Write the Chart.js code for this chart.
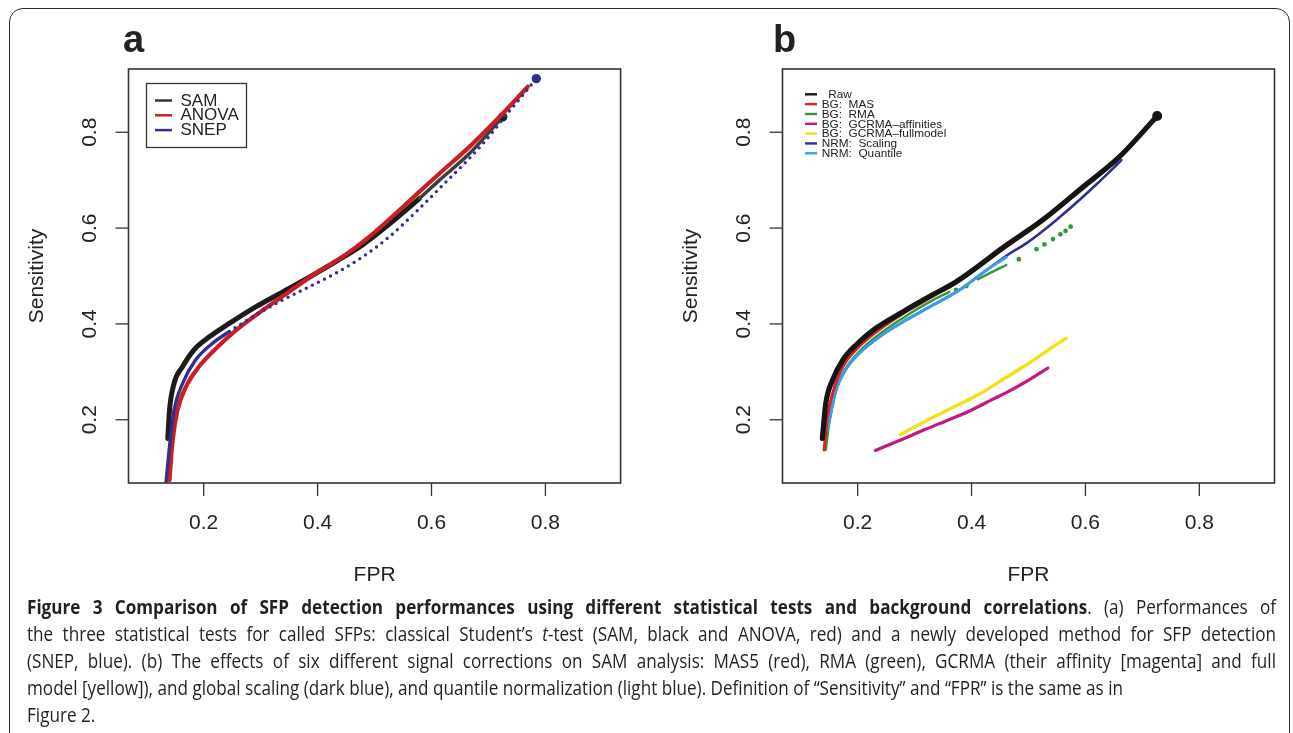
<!DOCTYPE html>
<html>
<head>
<meta charset="utf-8">
<script src="https://cdn.jsdelivr.net/npm/chart.js@4.4.1/dist/chart.umd.min.js"></script>
<style>
  body { margin: 0; width: 1293px; height: 733px; overflow: hidden; background: #fff; position: relative; }
  #frame { position: absolute; left: 9px; top: 8px; width: 1281px; height: 745px; border: 1.5px solid #2a2a2a; border-radius: 14px; box-sizing: border-box; }
  canvas { position: absolute; top: 0; }
  #ca { left: 0; }
  #cb { left: 647px; }
  #caption { position: absolute; left: 27px; top: 593px; font-family: "Open Sans", sans-serif; font-size: 20px; color: #231f20; transform-origin: 0 0; white-space: nowrap; }
  .ln { height: 27px; line-height: 27px; }
  .j { text-align: justify; text-align-last: justify; }
</style>
</head>
<body>
<div id="frame"></div>
<canvas id="ca" width="647" height="600"></canvas>
<canvas id="cb" width="646" height="600"></canvas>
<div id="caption">
  <div class="ln j"><b>Figure 3 Comparison of SFP detection performances using different statistical tests and background correlations</b>. (a) Performances of</div>
  <div class="ln j">the three statistical tests for called SFPs: classical Student’s <i>t</i>-test (SAM, black and ANOVA, red) and a newly developed method for SFP detection</div>
  <div class="ln j">(SNEP, blue). (b) The effects of six different signal corrections on SAM analysis: MAS5 (red), RMA (green), GCRMA (their affinity [magenta] and full</div>
  <div class="ln"><span id="l4">model [yellow]), and global scaling (dark blue), and quantile normalization (light blue). Definition of “Sensitivity” and “FPR” is the same as in</span></div>
  <div class="ln">Figure 2.</div>
</div>
<script>
// shared axes
const axisMin = 0.068;
const axisMax = 0.932;
const tickVals = [0.2, 0.4, 0.6, 0.8];
const tickLabels = ["0.2", "0.4", "0.6", "0.8"];

// panel a: statistical tests
const samFpr = [0.137, 0.140, 0.148, 0.163, 0.183, 0.210, 0.245, 0.292, 0.339, 0.386, 0.432, 0.479, 0.509, 0.579, 0.614, 0.667, 0.725];
const samSens = [0.161, 0.220, 0.276, 0.311, 0.346, 0.373, 0.401, 0.436, 0.467, 0.498, 0.530, 0.565, 0.592, 0.662, 0.700, 0.756, 0.832];
const anovaFpr = [0.140, 0.145, 0.154, 0.169, 0.192, 0.222, 0.257, 0.304, 0.350, 0.397, 0.444, 0.491, 0.579, 0.614, 0.667, 0.725, 0.769];
const anovaSens = [0.074, 0.151, 0.220, 0.269, 0.311, 0.349, 0.387, 0.429, 0.467, 0.506, 0.540, 0.582, 0.676, 0.714, 0.770, 0.839, 0.895];
const snepFpr = [0.134, 0.140, 0.148, 0.163, 0.186, 0.216, 0.245, 0.292, 0.339, 0.386, 0.432, 0.479, 0.526, 0.585, 0.620, 0.658, 0.696, 0.731, 0.758, 0.784];
const snepSens = [0.071, 0.144, 0.220, 0.276, 0.325, 0.360, 0.384, 0.419, 0.450, 0.478, 0.506, 0.540, 0.582, 0.648, 0.690, 0.735, 0.784, 0.836, 0.874, 0.912];

// panel b: signal corrections (null = gap in the curve)
const rawFpr = [0.138, 0.144, 0.156, 0.174, 0.197, 0.232, 0.279, 0.326, 0.373, 0.426, 0.449, 0.525, 0.596, 0.660, 0.726];
const rawSens = [0.161, 0.234, 0.283, 0.325, 0.356, 0.391, 0.425, 0.457, 0.488, 0.533, 0.554, 0.617, 0.686, 0.749, 0.834];
const masFpr = [0.141, 0.147, 0.156, 0.174, 0.197, 0.226, 0.279, 0.326, 0.373, 0.426, 0.525, 0.596, 0.660, 0.726];
const masSens = [0.137, 0.206, 0.255, 0.311, 0.346, 0.377, 0.421, 0.454, 0.486, 0.531, 0.616, 0.686, 0.750, 0.834];
const rmaFpr = [0.144, 0.150, 0.159, 0.174, 0.197, 0.232, 0.279, 0.326, 0.361, null, 0.373, null, 0.391, null, 0.411, 0.432, 0.461, null, 0.483, null, 0.514, null, 0.528, null, 0.543, null, 0.556, null, 0.565, null, 0.574];
const rmaSens = [0.137, 0.193, 0.248, 0.297, 0.335, 0.373, 0.412, 0.446, 0.467, null, 0.471, null, 0.479, null, 0.493, 0.506, 0.523, null, 0.535, null, 0.556, null, 0.566, null, 0.577, null, 0.587, null, 0.594, null, 0.603];
const affFpr = [0.231, 0.272, 0.319, 0.354, 0.389, 0.436, 0.471, 0.506, 0.534];
const affSens = [0.136, 0.156, 0.180, 0.197, 0.214, 0.242, 0.263, 0.287, 0.308];
const fullFpr = [0.275, 0.319, 0.366, 0.413, 0.459, 0.506, 0.535, 0.566];
const fullSens = [0.169, 0.197, 0.225, 0.253, 0.287, 0.322, 0.346, 0.370];
const scalFpr = [0.147, 0.162, 0.180, 0.203, 0.238, 0.285, 0.332, 0.379, 0.426, 0.467, 0.496, 0.549, 0.602, 0.649, 0.663];
const scalSens = [0.180, 0.262, 0.307, 0.339, 0.373, 0.408, 0.439, 0.471, 0.512, 0.547, 0.568, 0.617, 0.672, 0.725, 0.742];
const quantFpr = [0.147, 0.162, 0.180, 0.203, 0.238, 0.285, 0.332, 0.379, 0.426, 0.461];
const quantSens = [0.180, 0.262, 0.307, 0.339, 0.373, 0.408, 0.439, 0.471, 0.512, 0.539];

const font = '"Liberation Sans", Arial, sans-serif';

function pts(xs, ys) {
  return xs.map((x, i) => ({ x: x, y: ys[i] }));
}

// lone points between gaps are drawn as dots
function loneDot(ctx) {
  const d = ctx.dataset.data;
  const i = ctx.dataIndex;
  const prev = d[i - 1], next = d[i + 1];
  const alone = (!prev || prev.y === null) && (!next || next.y === null);
  return alone ? 1.2 : 0;
}

function endDot(size) {
  return ctx => ctx.dataIndex === ctx.dataset.data.length - 1 ? size : 0;
}

// R-style box, ticks, titles and legend
const rFrame = {
  id: "rFrame",
  afterDraw(chart, args, opts) {
    const { ctx, chartArea: a } = chart;
    const x = chart.scales.x, y = chart.scales.y;
    ctx.save();
    ctx.strokeStyle = "#333";
    ctx.fillStyle = "#222";
    ctx.lineWidth = 1.6;
    ctx.strokeRect(a.left, a.top, a.right - a.left, a.bottom - a.top);
    ctx.lineWidth = 1.3;
    ctx.font = "21px " + font;
    ctx.textAlign = "center";
    ctx.textBaseline = "middle";
    tickVals.forEach((v, i) => {
      const px = x.getPixelForValue(v);
      ctx.beginPath();
      ctx.moveTo(px, a.bottom);
      ctx.lineTo(px, a.bottom + 13);
      ctx.stroke();
      ctx.fillText(tickLabels[i], px, a.bottom + 40);
      const py = y.getPixelForValue(v);
      ctx.beginPath();
      ctx.moveTo(a.left, py);
      ctx.lineTo(a.left - 13, py);
      ctx.stroke();
      ctx.save();
      ctx.translate(a.left - 38, py);
      ctx.rotate(-Math.PI / 2);
      ctx.fillText(tickLabels[i], 0, 0);
      ctx.restore();
    });
    ctx.fillText("FPR", (a.left + a.right) / 2, 575);
    ctx.save();
    ctx.translate(a.left - 91, (a.top + a.bottom) / 2);
    ctx.rotate(-Math.PI / 2);
    ctx.fillText("Sensitivity", 0, 0);
    ctx.restore();

    // panel letter
    ctx.font = "bold 38px " + font;
    ctx.textAlign = "left";
    ctx.textBaseline = "alphabetic";
    ctx.fillText(opts.letter, opts.letterX, 52);

    // legend
    const lg = opts.legend;
    if (lg.box) {
      ctx.fillStyle = "#fff";
      ctx.fillRect(lg.box[0], lg.box[1], lg.box[2], lg.box[3]);
      ctx.lineWidth = 1.3;
      ctx.strokeStyle = "#333";
      ctx.strokeRect(lg.box[0], lg.box[1], lg.box[2], lg.box[3]);
    }
    ctx.font = lg.size + "px " + font;
    ctx.textBaseline = "middle";
    chart.data.datasets.forEach((ds, i) => {
      const ry = lg.y0 + i * lg.dy;
      ctx.strokeStyle = ds.legendColor || ds.borderColor;
      ctx.lineWidth = lg.lw;
      ctx.beginPath();
      ctx.moveTo(lg.x0, ry);
      ctx.lineTo(lg.x1, ry);
      ctx.stroke();
      ctx.fillStyle = "#222";
      ctx.fillText(ds.label, lg.tx, ry + 0.5);
    });
    ctx.restore();
  }
};

function makePanel(id, datasets, pad, frameOpts) {
  return new Chart(document.getElementById(id), {
    type: "scatter",
    data: { datasets: datasets },
    options: {
      responsive: false,
      devicePixelRatio: 1,
      animation: false,
      events: [],
      layout: { padding: pad },
      elements: {
        line: { borderCapStyle: "round", borderJoinStyle: "round", cubicInterpolationMode: "monotone" },
        point: { radius: 0, borderWidth: 0 }
      },
      scales: {
        x: { type: "linear", min: axisMin, max: axisMax, display: false },
        y: { type: "linear", min: axisMin, max: axisMax, display: false }
      },
      plugins: {
        legend: { display: false },
        tooltip: { enabled: false },
        rFrame: frameOpts
      }
    },
    plugins: [rFrame]
  });
}

makePanel("ca", [
  {
    label: "SAM", data: pts(samFpr, samSens), showLine: true, order: 3,
    borderColor: "#1c1c1c", borderWidth: 5, legendColor: "#333",
    segment: {
      borderWidth: c => c.p0.parsed.y > 0.6 ? 3.5 : undefined,
      borderColor: c => c.p0.parsed.y > 0.6 ? "#3d3d3d" : undefined
    },
    pointRadius: endDot(2.2), pointBackgroundColor: "#111"
  },
  {
    label: "ANOVA", data: pts(anovaFpr, anovaSens), showLine: true, order: 2,
    borderColor: "#c91f24", borderWidth: 4.2
  },
  {
    label: "SNEP", data: pts(snepFpr, snepSens), showLine: true, order: 1,
    borderColor: "#303092", borderWidth: 3.4,
    segment: { borderDash: c => c.p0.parsed.y > 0.37 ? [0, 6.8] : undefined },
    pointRadius: endDot(3), pointBackgroundColor: "#303092"
  }
], { left: 128.5, top: 69, right: 26.4, bottom: 117 }, {
  letter: "a", letterX: 123,
  legend: { box: [146.5, 83.5, 100, 64], x0: 155, x1: 172, tx: 180.5, y0: 100.5, dy: 14.8, size: 17, lw: 2.5 }
});

makePanel("cb", [
  { label: "  Raw", data: pts(rawFpr, rawSens), showLine: true, order: 1, borderColor: "#151515", borderWidth: 5.2, pointRadius: endDot(2.4), pointBackgroundColor: "#111" },
  { label: "BG:  MAS", data: pts(masFpr, masSens), showLine: true, order: 2, borderColor: "#d8232a", borderWidth: 3 },
  { label: "BG:  RMA", data: pts(rmaFpr, rmaSens), showLine: true, order: 4, spanGaps: false, borderColor: "#2e9a36", borderWidth: 2.4, pointRadius: loneDot, pointBackgroundColor: "#2e9a36" },
  { label: "BG:  GCRMA\u2013affinities", data: pts(affFpr, affSens), showLine: true, order: 6, borderColor: "#c2187f", borderWidth: 3.2 },
  { label: "BG:  GCRMA\u2013fullmodel", data: pts(fullFpr, fullSens), showLine: true, order: 7, borderColor: "#efe21c", borderWidth: 3.4 },
  { label: "NRM:  Scaling", data: pts(scalFpr, scalSens), showLine: true, order: 5, borderColor: "#2f2f93", borderWidth: 2.6 },
  { label: "NRM:  Quantile", data: pts(quantFpr, quantSens), showLine: true, order: 3, borderColor: "#3b9fe4", borderWidth: 3 }
], { left: 135.5, top: 69, right: 18.5, bottom: 117 }, {
  letter: "b", letterX: 126,
  legend: { box: null, x0: 158, x1: 170, tx: 174.7, y0: 94.3, dy: 9.83, size: 11.8, lw: 2.4 }
});

// caption: condense to the width of the original print
function fitCaption() {
  const cap = document.getElementById("caption");
  cap.style.transform = "none";
  const w = document.getElementById("l4").getBoundingClientRect().width;
  const s = 1096 / w;
  cap.style.transform = "scaleX(" + s + ")";
  document.querySelectorAll(".j").forEach(el => { el.style.width = (1249 / s) + "px"; });
}
fitCaption();
document.fonts.ready.then(fitCaption);
</script>
</body>
</html>
